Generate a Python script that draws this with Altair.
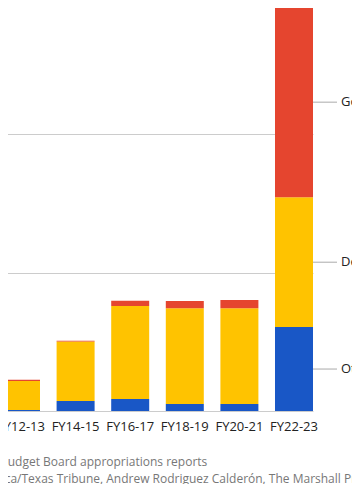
import altair as alt
import pandas as pd

# Biennium labels
years = ["FY12-13", "FY14-15", "FY16-17", "FY18-19", "FY20-21", "FY22-23"]
# Appropriations, millions of dollars
other = [7, 72, 87, 50, 50, 606]
dps = [209, 429, 671, 692, 692, 937]
gov = [9, 7, 38, 53, 60, 1374]
categories = ["Other", "Department of Public Safety", "Governor's office"]
colors = ["#1957C6", "#FFC300", "#E5452F"]
grid_values = [0, 1000, 2000]
source_lines = [
    "Source: Legislative Budget Board appropriations reports",
    "Graphic by ProPublica/Texas Tribune, Andrew Rodriguez Calderón, The Marshall Project",
]

rows = []
for i, fy in enumerate(years):
    for rank, (cat, vals) in enumerate(zip(categories, [other, dps, gov])):
        rows.append({"fy": fy, "category": cat, "rank": rank, "amount": vals[i]})
df = pd.DataFrame(rows)

FONT = "Open Sans"

x_scale = alt.Scale(domain=years, range=[-6, 305], paddingInner=0.304, paddingOuter=0)
y_scale = alt.Scale(domain=[0, 2910], nice=False, zero=True)
color_scale = alt.Scale(domain=categories, range=colors)

base = alt.Chart(df).transform_stack(
    stack="amount",
    groupby=["fy"],
    as_=["y0", "y1"],
    sort=[alt.SortField("rank", order="ascending")],
)

bars = base.mark_bar().encode(
    x=alt.X(
        "fy:N",
        scale=x_scale,
        sort=years,
        axis=alt.Axis(
            title=None, labelAngle=0, ticks=False, domain=False, grid=False,
            labelPadding=9, labelFontSize=13, labelColor="#222", labelFont=FONT,
            labelOverlap=False, labelFlush=False,
        ),
    ),
    y=alt.Y(
        "y1:Q",
        scale=y_scale,
        axis=alt.Axis(
            title=None, labels=False, ticks=False, domain=False, grid=True,
            values=grid_values, gridColor="#cccccc", gridWidth=1,
        ),
    ),
    y2="y0:Q",
    color=alt.Color("category:N", scale=color_scale, legend=None),
)

lab = base.transform_filter(alt.datum.fy == years[-1]).transform_calculate(
    mid="(datum.y0 + datum.y1) / 2"
)

leaders = lab.mark_rule(color="#aaaaaa", strokeWidth=1, x2Offset=24).encode(
    x=alt.X("fy:N", bandPosition=1),
    x2=alt.X2("fy", bandPosition=1),
    y=alt.Y("mid:Q"),
)

labels = lab.mark_text(
    align="left", baseline="middle", dx=28, fontSize=13, font=FONT, color="#222"
).encode(
    x=alt.X("fy:N", bandPosition=1),
    y=alt.Y("mid:Q"),
    text="category:N",
)

chart = (
    alt.layer(bars, leaders, labels)
    .properties(
        width=313,
        height=403,
        autosize=alt.AutoSizeParams(type="none"),
        padding={"left": 0, "top": 0, "right": 31, "bottom": 73},
        title=alt.TitleParams(
            text=source_lines,
            orient="bottom",
            anchor="start",
            frame="group",
            dx=-114,
            offset=24,
            fontSize=12,
            font=FONT,
            fontWeight="normal",
            color="#777777",
            lineHeight=17,
        ),
    )
    .configure_view(stroke=None)
)

chart.save("out.html", embed_options={"renderer": "svg", "actions": False})
